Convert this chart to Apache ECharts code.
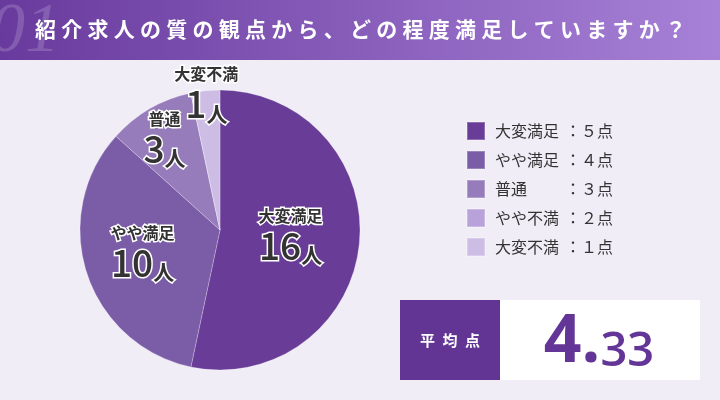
<!DOCTYPE html>
<html><head><meta charset="utf-8">
<script src="https://cdn.jsdelivr.net/npm/echarts@6/dist/echarts.min.js"></script>
<style>html,body{margin:0;padding:0;background:#f0edf7}#c{width:720px;height:400px}</style>
</head><body><div id="c"></div>
<script>
// ---- data ----
const titleText = '紹介求人の質の観点から、どの程度満足していますか？';
const categories = ['大変満足', 'やや満足', '普通', 'やや不満', '大変不満'];
const counts = [16, 10, 3, 0, 1];
const points = [5, 4, 3, 2, 1];
const unit = '人';
const pointUnit = '点';
const avgLabel = '平均点';
const watermark = '01';

// ---- style ----
const colors = ['#683c97', '#7b5ca6', '#977cbc', '#b9a2da', '#cdbde4'];
const FONT = '"Noto Sans CJK JP", "Noto Sans", sans-serif';
const NUMFONT = '"Open Sans", "Noto Sans", sans-serif';
const labelNudge = [[-2, -2], [-8, 0], [-19, -28], [0, 0], [-6, -63]];

const total = counts.reduce((a, b) => a + b, 0);
const avg = (counts.reduce((s, c, i) => s + c * points[i], 0) / total).toFixed(2);
const avgParts = avg.split('.');
const toFull = s => String(s).replace(/[0-9]/g, d => String.fromCharCode(0xFF10 + +d));
const spaced = (s, sp) => s.split('').join(sp);

const chart = echarts.init(document.getElementById('c'), null, { renderer: 'canvas' });
chart.setOption({
  backgroundColor: '#f0edf7',
  animation: false,
  color: colors,
  title: {
    text: spaced(titleText, '\u2005'),
    left: 30, top: 14,
    textStyle: { color: '#fff', fontSize: 21, fontWeight: 'bold', fontFamily: FONT }
  },
  legend: {
    orient: 'vertical', left: 461, top: 116,
    icon: 'rect', itemWidth: 18, itemHeight: 18, itemGap: 9,
    selectedMode: false,
    data: categories,
    formatter: name => {
      const i = categories.indexOf(name);
      return '{n|' + name + '}{s|：' + toFull(points[i]) + pointUnit + '}';
    },
    textStyle: {
      fontFamily: FONT, fontSize: 16, color: '#333',
      rich: {
        n: { width: 70, fontSize: 16, color: '#333', fontFamily: FONT, lineHeight: 20, padding: [0, 0, 0, 5] },
        s: { fontSize: 16, color: '#333', fontFamily: FONT, lineHeight: 20 }
      }
    }
  },
  graphic: [
    {
      type: 'rect', z: -1, shape: { x: 0, y: 0, width: 720, height: 60 },
      style: { fill: new echarts.graphic.LinearGradient(0, 0, 1, 0, [
        { offset: 0, color: '#683a9d' }, { offset: 1, color: '#a781d7' }]) }
    },
    {
      type: 'text', z: 0, left: -10, top: -2,
      style: { text: watermark, fill: 'rgba(255,255,255,0.17)', font: 'italic 70px "Liberation Serif", serif' }
    },
    {
      type: 'rect', shape: { x: 400, y: 300, width: 100, height: 80 }, style: { fill: '#623595' }
    },
    {
      type: 'rect', shape: { x: 500, y: 300, width: 200, height: 80 }, style: { fill: '#ffffff' }
    },
    {
      type: 'text', x: 450, y: 340,
      style: { text: spaced(avgLabel, '\u2002'), fill: '#fff', font: 'bold 15px ' + FONT, align: 'center', verticalAlign: 'middle' }
    },
    {
      type: 'text', x: 599, y: 376,
      style: {
        text: '{a|' + avgParts[0] + '.}{b|' + avgParts[1] + '}',
        align: 'center', verticalAlign: 'bottom',
        rich: {
          a: { fill: '#623596', fontSize: 66, fontWeight: 'bold', fontFamily: NUMFONT, verticalAlign: 'bottom' },
          b: { fill: '#623596', fontSize: 47, fontWeight: 600, fontFamily: NUMFONT, verticalAlign: 'bottom' }
        }
      }
    }
  ],
  series: [{
    type: 'pie',
    center: [220, 230],
    radius: 140,
    startAngle: 90,
    clockwise: true,
    data: categories.map((n, i) => ({
      name: n, value: counts[i],
      label: { show: counts[i] > 0 }
    })),
    itemStyle: { borderColor: 'rgba(255,255,255,0.25)', borderWidth: 1 },
    labelLine: { show: false },
    label: {
      position: 'inside',
      formatter: p => '{n|' + p.name + '}\n{v|' + p.value + '}{u|' + unit + '}',
      color: '#333',
      textBorderColor: '#fff', textBorderWidth: 3,
      rich: {
        n: { fontSize: 16, fontWeight: 'bold', fontFamily: FONT, color: '#333', lineHeight: 20, textBorderColor: '#fff', textBorderWidth: 3 },
        v: { fontSize: 37, fontWeight: 500, fontFamily: FONT, color: '#333', lineHeight: 40, textBorderColor: '#fff', textBorderWidth: 3 },
        u: { fontSize: 21, fontWeight: 'bold', fontFamily: FONT, color: '#333', lineHeight: 40, verticalAlign: 'bottom', textBorderColor: '#fff', textBorderWidth: 3 }
      }
    },
    labelLayout: p => ({ dx: labelNudge[p.dataIndex][0], dy: labelNudge[p.dataIndex][1] }),
    emphasis: { disabled: true }
  }]
});
</script>
</body></html>
